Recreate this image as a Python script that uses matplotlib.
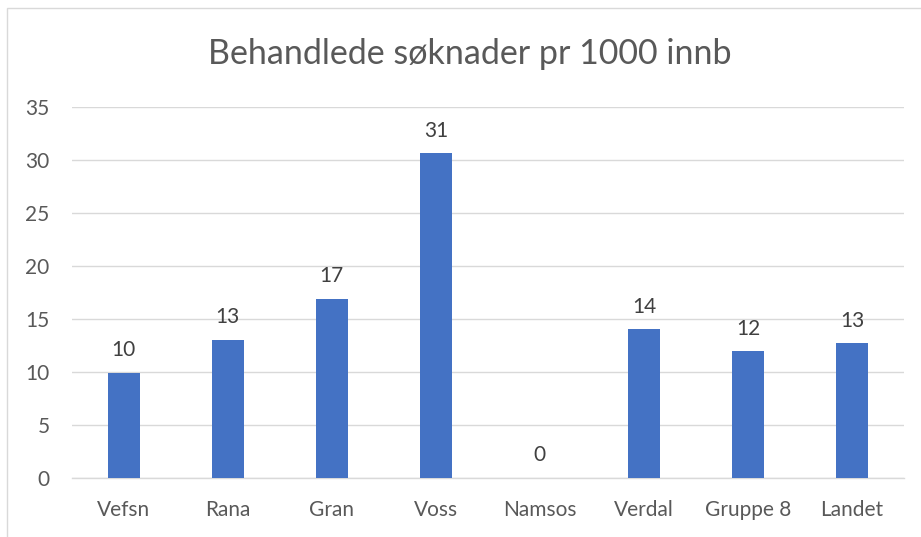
import matplotlib.pyplot as plt
from matplotlib.patches import Rectangle

kommuner = ['Vefsn', 'Rana', 'Gran', 'Voss', 'Namsos', 'Verdal', 'Gruppe 8', 'Landet']
soknader = [9.9, 13.0, 16.9, 30.6, 0.0, 14.0, 11.95, 12.7]
tittel = 'Behandlede søknader pr 1000 innb'

plt.rcParams['font.family'] = ['Lato', 'DejaVu Sans']

fig = plt.figure(figsize=(9.21, 5.37), dpi=100)
ax = fig.add_axes([0.0778, 0.1104, 0.9038, 0.6909])

# chart area border (cropped at right and bottom in the original)
fig.patches.append(Rectangle((7 / 921, -0.5), 2, 1.5 - 8 / 537, transform=fig.transFigure,
                             fill=False, edgecolor='#d9d9d9', linewidth=1.0))

x = range(len(kommuner))
bars = ax.bar(x, soknader, width=0.31, color='#4472C4', zorder=3)

for xi, v in zip(x, soknader):
    ax.annotate(f'{v:.0f}', (xi, v), xytext=(0, 9), textcoords='offset points',
                ha='center', va='bottom', fontsize=15, color='#404040')

ax.set_xlim(-0.5, len(kommuner) - 0.5)
ax.set_ylim(0, 35)
ax.set_yticks(range(0, 36, 5))
ax.set_xticks(list(x))
ax.set_xticklabels(kommuner)
ax.grid(axis='y', color='#d9d9d9', linewidth=1.0, zorder=0)
ax.tick_params(axis='y', length=0, pad=16, labelsize=15, labelcolor='#595959')
ax.tick_params(axis='x', length=0, pad=16, labelsize=15, labelcolor='#595959')
for s in ['top', 'right', 'left']:
    ax.spines[s].set_visible(False)
ax.spines['bottom'].set_color('#d9d9d9')
ax.spines['bottom'].set_linewidth(1.0)

fig.text(0.51, 0.9, tittel, ha='center', va='center', fontsize=24.5, color='#595959')

fig.savefig('out.png', dpi=100)
